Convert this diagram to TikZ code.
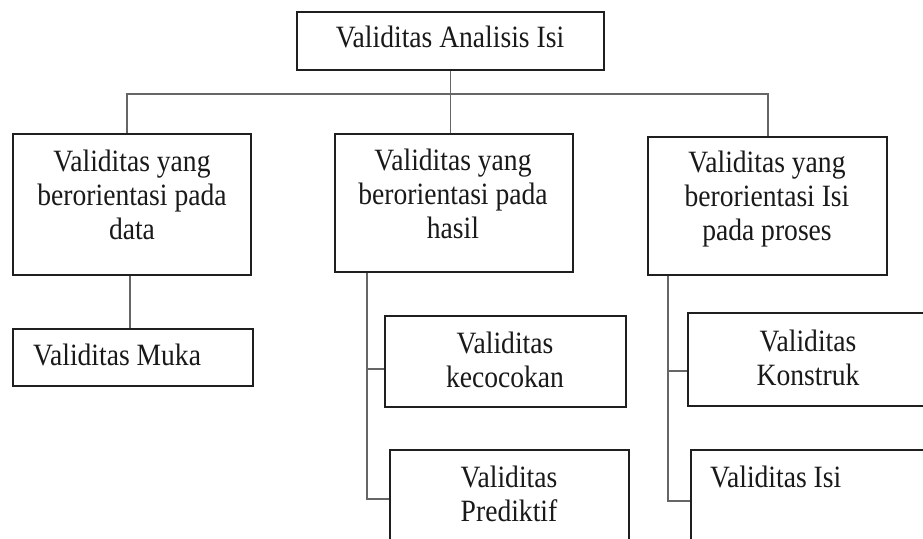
\documentclass[tikz,border=0pt]{standalone}
\usepackage{fontspec}
\setmainfont[FakeStretch=0.89]{Liberation Serif}
\begin{document}
\begin{tikzpicture}[x=1pt,y=-1pt]
\tikzset{
  box/.style={draw=black!88, line width=1.9pt, fill=white, inner sep=0pt},
  conn/.style={draw=black!60, line width=1.3pt},
  txt/.style={text=black!90, inner sep=0pt, align=center, font=\fontsize{31}{34}\selectfont},
}
\clip (0,0) rectangle (923,538);
\fill[white] (0,0) rectangle (923,538);
% boxes
\node[box, minimum width=307pt, minimum height=58pt] (top) at (450.5,41) {};
\node[box, minimum width=238pt, minimum height=141pt] (data) at (132,204.5) {};
\node[box, minimum width=238pt, minimum height=138pt] (hasil) at (454,203) {};
\node[box, minimum width=239pt, minimum height=138pt] (proses) at (767.5,206) {};
\node[box, minimum width=240pt, minimum height=57pt] (muka) at (133,357.5) {};
\node[box, minimum width=241pt, minimum height=91pt] (kecocokan) at (505.5,361.5) {};
\node[box, minimum width=239pt, minimum height=120pt] (prediktif) at (509.5,510) {};
\node[box, minimum width=240pt, minimum height=93pt] (konstruk) at (808,359.5) {};
\node[box, minimum width=240pt, minimum height=120pt] (isi) at (811,510) {};
% texts
\node[txt] (ttop) at (450,36.5) {Validitas Analisis Isi};
\node[txt] (tdata) at (132,194.5) {Validitas yang\\berorientasi pada\\data};
\node[txt] (thasil) at (453,193.5) {Validitas yang\\berorientasi pada\\hasil};
\node[txt] (tproses) at (767,199.5) {Validitas yang\\berorientasi Isi\\pada proses};
\node[txt, anchor=base west] (tmuka) at (33,365) {Validitas Muka};
\node[txt] (tkec) at (505,359.5) {Validitas\\kecocokan};
\node[txt] (tkon) at (808,358) {Validitas\\Konstruk};
\node[txt] (tpred) at (509,494) {Validitas\\Prediktif};
\node[txt, anchor=base west] (tisi) at (710,487) {Validitas Isi};
% connectors
\coordinate (bL) at (127,94);
\coordinate (bR) at (768,94);
\draw[conn] (top.south) -- (hasil.north -| top.south);
\draw[conn] (data.north -| bL) -- (bL) -- (bR) -- (proses.north -| bR);
\coordinate (dL) at (130,0);
\draw[conn] (data.south -| dL) -- (muka.north -| dL);
\coordinate (h1) at (367,369);
\coordinate (h2) at (367,499);
\draw[conn] (hasil.south -| h1) -- (h2) -- (h2 -| prediktif.west);
\draw[conn] (h1) -- (h1 -| kecocokan.west);
\coordinate (p1) at (668,371);
\coordinate (p2) at (668,501);
\draw[conn] (proses.south -| p1) -- (p2) -- (p2 -| isi.west);
\draw[conn] (p1) -- (p1 -| konstruk.west);
\end{tikzpicture}
\end{document}
